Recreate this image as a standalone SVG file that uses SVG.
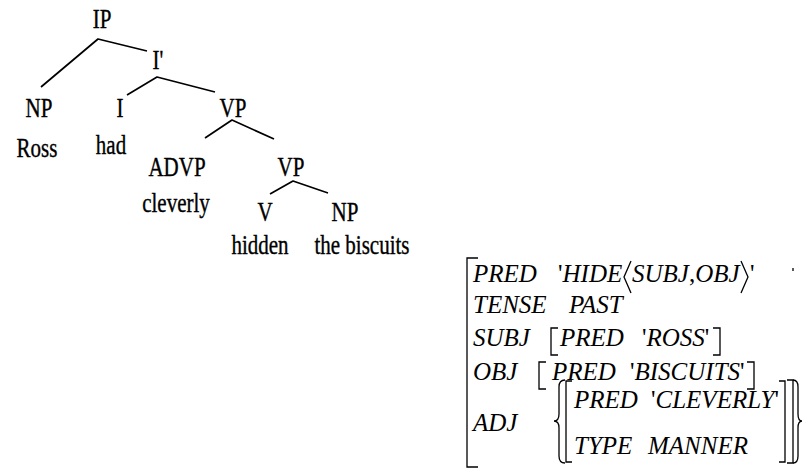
<svg xmlns="http://www.w3.org/2000/svg" width="803" height="470" viewBox="0 0 803 470">
<style>
.t{font-family:"Liberation Serif","Times New Roman",serif;font-size:21px;fill:#000;stroke:#000;stroke-width:0.3;text-anchor:middle}
.a{font-family:"Liberation Serif","Times New Roman",serif;font-size:25px;font-style:italic;fill:#000}
.q{font-style:normal}
.e{stroke:#000;stroke-width:1.7;fill:none;stroke-linejoin:round}
.b{stroke:#000;stroke-width:1.3;fill:none}
</style>
<rect width="803" height="470" fill="#fff"/>
<g id="connectors">
<polyline class="e" points="41,87 98,39 147,51"/>
<polyline class="e" points="127,95 157,77 215,92"/>
<polyline class="e" points="205,138 232,120 274,139"/>
<polyline class="e" points="270,194 293,181 328,193"/>
</g>
<g id="n-IP"><text class="t" x="102" y="0" transform="matrix(1,0,0,1.3,0,28)">IP</text></g>
<g id="n-Ibar"><text class="t" x="158" y="0" transform="matrix(1,0,0,1.3,0,69)">I'</text></g>
<g id="n-NP1"><text class="t" x="39" y="0" transform="matrix(1,0,0,1.3,0,117)">NP</text></g>
<g id="n-I"><text class="t" x="120" y="0" transform="matrix(1,0,0,1.3,0,117)">I</text></g>
<g id="n-VP1"><text class="t" x="233" y="0" transform="matrix(1,0,0,1.3,0,117)">VP</text></g>
<g id="n-Ross"><text class="t" x="37" y="0" transform="matrix(1,0,0,1.3,0,157)">Ross</text></g>
<g id="n-had"><text class="t" x="111" y="0" transform="matrix(1,0,0,1.3,0,154)">had</text></g>
<g id="n-ADVP"><text class="t" x="177" y="0" transform="matrix(1,0,0,1.3,0,176)">ADVP</text></g>
<g id="n-VP2"><text class="t" x="291" y="0" transform="matrix(1,0,0,1.3,0,176)">VP</text></g>
<g id="n-cleverly"><text class="t" x="176" y="0" transform="matrix(1,0,0,1.3,0,212)">cleverly</text></g>
<g id="n-V"><text class="t" x="265" y="0" transform="matrix(1,0,0,1.3,0,221)">V</text></g>
<g id="n-NP2"><text class="t" x="345" y="0" transform="matrix(1,0,0,1.3,0,221)">NP</text></g>
<g id="n-hidden"><text class="t" x="260" y="0" transform="matrix(1,0,0,1.3,0,254)">hidden</text></g>
<g id="n-biscuits"><text class="t" x="362" y="0" transform="matrix(1,0,0,1.3,0,254)">the biscuits</text></g>

<g id="avm">
<path class="b" d="M478,258 H467 V467 H478"/>
<path class="b" d="M793,268 V271"/>
<text class="a" x="473" y="282">PRED</text>
<text class="a" x="558" y="282"><tspan class="q">'</tspan>HIDE</text>
<path class="b" d="M631,261 L624,277 L631,293"/>
<text class="a" x="632" y="282">SUBJ</text>
<text class="a" x="689" y="282"><tspan class="q">,</tspan>OBJ</text>
<path class="b" d="M741,261 L748,277 L741,293"/>
<text class="a" x="750" y="282"><tspan class="q">'</tspan></text>
<text class="a" x="473" y="313">TENSE</text>
<text class="a" x="569" y="313">PAST</text>
<text class="a" x="473" y="346">SUBJ</text>
<path class="b" d="M558,328 H551 V355 H558"/>
<text class="a" x="560" y="346">PRED</text>
<text class="a" x="642" y="346"><tspan class="q">'</tspan>ROSS<tspan class="q">'</tspan></text>
<path class="b" d="M713,328 H720 V355 H713"/>
<text class="a" x="473" y="380">OBJ</text>
<path class="b" d="M546,362 H539 V389 H546"/>
<text class="a" x="552" y="380">PRED</text>
<text class="a" x="630" y="380"><tspan class="q">'</tspan>BISCUITS<tspan class="q">'</tspan></text>
<path class="b" d="M747,362 H754 V389 H747"/>
<text class="a" x="473" y="431">ADJ</text>
<path class="b" d="M565,380 Q559,380 559,387 V414 Q559,421 554,421 Q559,421 559,428 V456 Q559,463 565,463"/>
<path class="b" d="M572,381 H566 V462 H572"/>
<text class="a" x="574" y="408">PRED</text>
<text class="a" x="651" y="408"><tspan class="q">'</tspan>CLEVERLY<tspan class="q">'</tspan></text>
<text class="a" x="574" y="454">TYPE</text>
<text class="a" x="648" y="454">MANNER</text>
<path class="b" d="M779,381 H785 V462 H779"/>
<path class="b" d="M787,380 H793 V463 H787"/>
<path class="b" d="M793,380 Q798,380 798,387 V414 Q798,421 802,421 Q798,421 798,428 V456 Q798,463 793,463"/>
</g>
</svg>
